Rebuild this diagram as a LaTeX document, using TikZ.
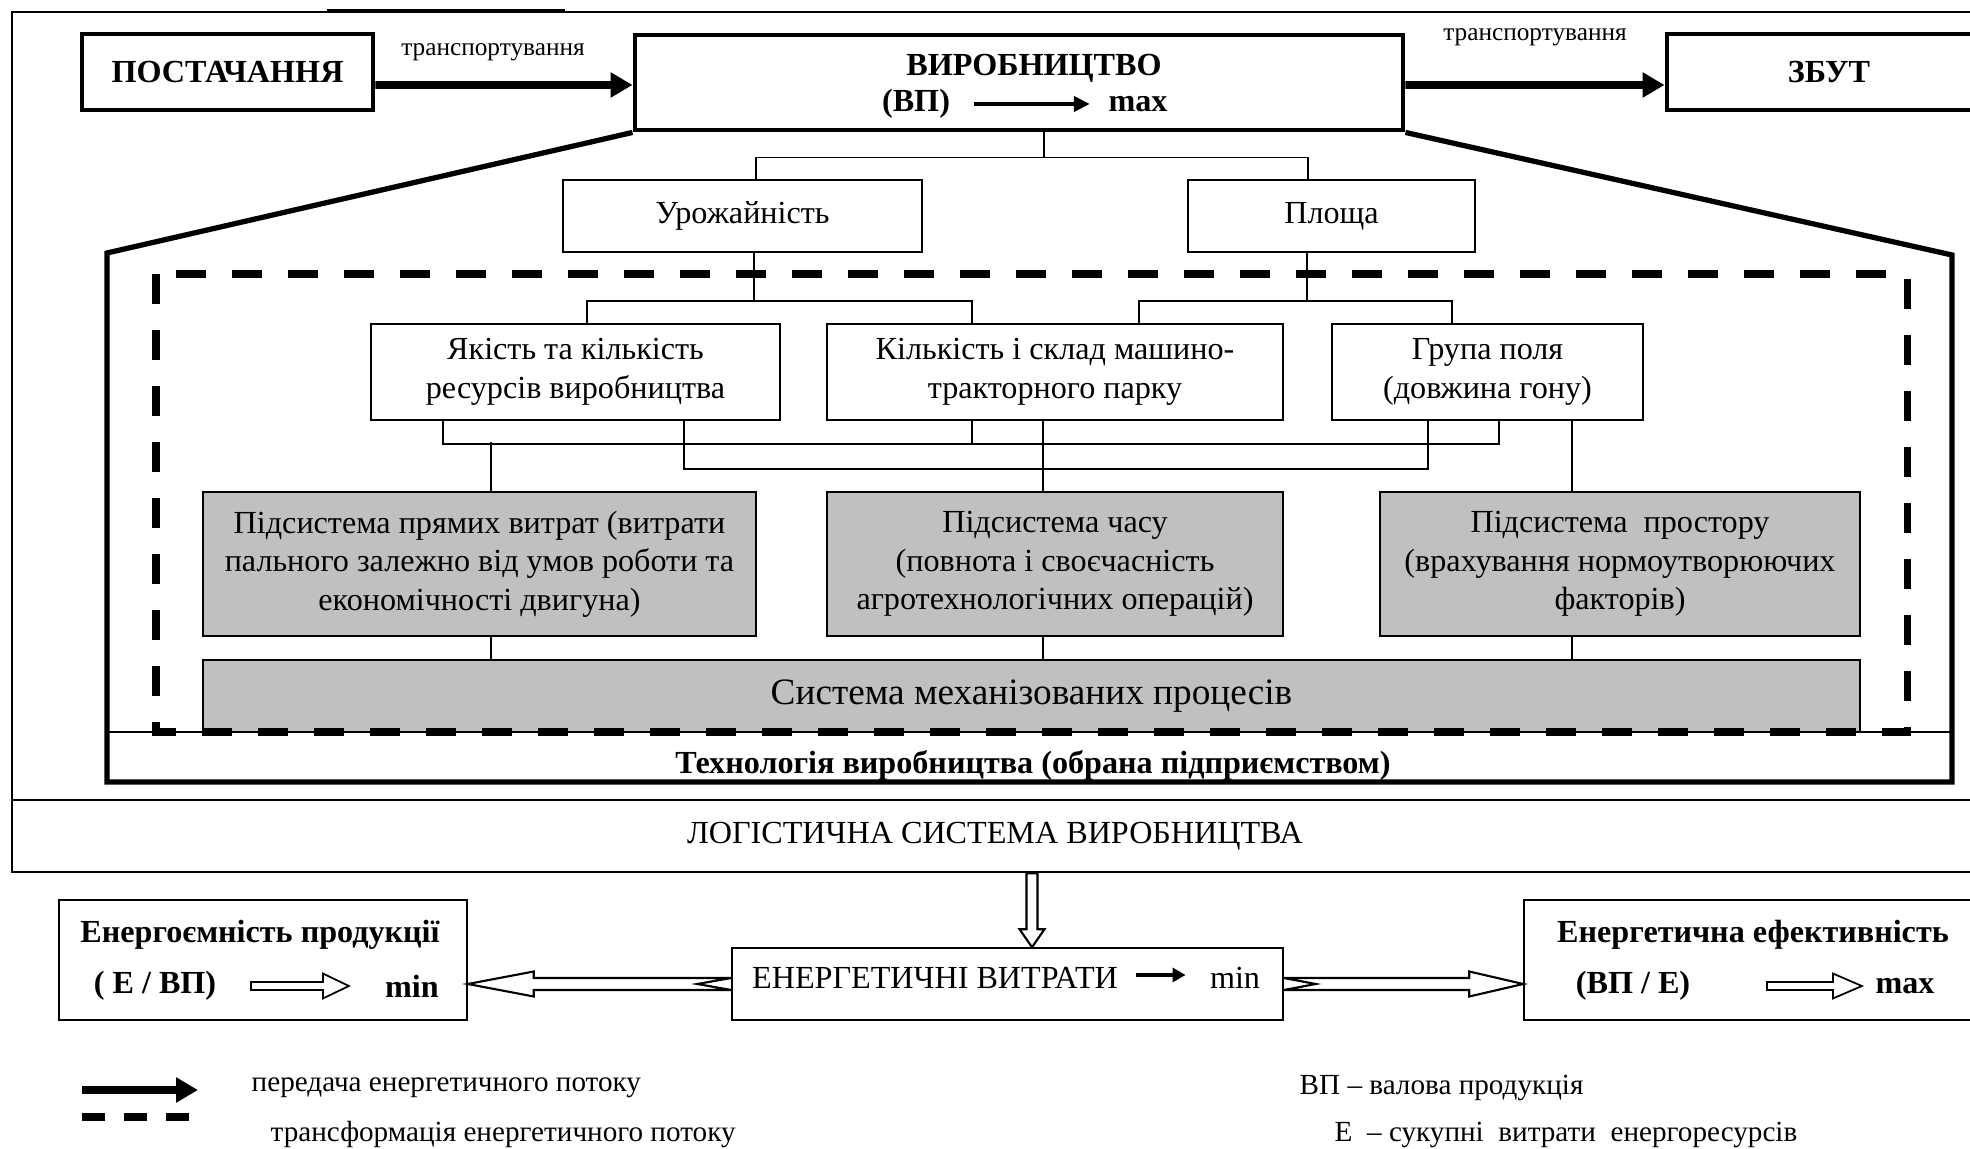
\documentclass[tikz,border=0pt]{standalone}
\usepackage{fontspec}
\setmainfont{Liberation Serif}
\usetikzlibrary{arrows.meta,calc}
\definecolor{subgray}{RGB}{192,192,192}
\newcommand{\txtnorm}{\fontsize{9.15}{11}\selectfont}
\newcommand{\legsize}{\fontsize{8.3}{10}\selectfont}
\newcommand{\trsize}{\fontsize{7.2}{8}\selectfont}

\begin{document}
\begin{tikzpicture}[x=0.1mm, y=-0.1mm,
  box/.style={draw, line width=0.45pt, rectangle, inner sep=0pt, align=center, font=\txtnorm},
  boldbox/.style={draw, line width=1.4pt, rectangle, inner sep=0pt, align=center, font=\txtnorm\bfseries},
  subbox/.style={box, fill=subgray},
  lbl/.style={inner sep=0pt, font=\txtnorm},
  flow/.style={line width=2.2pt, -{Triangle[length=2.2mm, width=2.4mm]}},
  link/.style={line width=0.45pt},
  hollow/.style={draw, fill=white, line width=0.6pt},
  dashframe/.style={line width=2pt, dash pattern=on 3mm off 2.6mm},
]
\useasboundingbox (0,0) rectangle (1970,1149);
\clip (0,0) rectangle (1970,1149);

% outer frame
\draw[line width=0.6pt] (12,12) rectangle (1978,800);
\draw[line width=1.2pt] (327,11) -- (565,11);

% supply - production - sales
\node[boldbox, minimum width=29.1mm, minimum height=7.6mm] (post) at (227.5,72) {ПОСТАЧАННЯ};
\node[boldbox, minimum width=76.8mm, minimum height=9.5mm] (virob) at (1019,82.5) {};
\node[boldbox, minimum width=32.4mm, minimum height=7.6mm] (zbut) at (1829,72) {ЗБУТ};
\node[lbl, font=\txtnorm\bfseries] (virobt) at (1034,68) {ВИРОБНИЦТВО};
\node[lbl, font=\txtnorm\bfseries] (vp) at (916,104) {(ВП)};
\node[lbl, font=\txtnorm\bfseries] (vmax) at (1138,104) {max};
\draw[line width=1.3pt, -{Triangle[length=1.6mm, width=1.5mm]}, shorten <=2.3mm, shorten >=1.8mm] (vp.east) -- (vmax.west);

\draw[flow] ($(post.east)+(0,13)$) -- ($(virob.west)+(0,2.5)$);
\draw[flow] ($(virob.east)+(0,2.5)$) -- ($(zbut.west)+(0,13)$);
\node[lbl, font=\trsize] (tr1) at (493,52) {транспортування};
\node[lbl, font=\trsize] (tr2) at (1535,37) {транспортування};

% technology frame
\draw[line width=1.5pt] (virob.south west) -- (107,253) |- (1952,782) -- (1952,255) -- (virob.south east);
\draw[line width=0.8pt] (107,732) -- (1952,732);
\node[lbl, font=\txtnorm\bfseries] (techl) at (1033,765) {Технологія виробництва (обрана підприємством)};

% factors
\node[box, minimum width=35.9mm, minimum height=7.2mm] (urozh) at (742.5,216) {Урожайність};
\node[box, minimum width=28.7mm, minimum height=7.2mm] (plosh) at (1331.5,216) {Площа};
\draw[link] ($(virob.south)+(25,0)$) -- ++(0,25) coordinate (vb);
\draw[link] ($(urozh.north)+(13.5,0)$) |- (vb) -| ($(plosh.north)+(-23.5,0)$);

\node[box, minimum width=40.9mm, minimum height=9.6mm] (yakist) at (575.5,372) {Якість та кількість\\ресурсів виробництва};
\node[box, minimum width=45.6mm, minimum height=9.6mm] (kilk) at (1055,372) {Кількість і склад машино-\\тракторного парку};
\node[box, minimum width=31.1mm, minimum height=9.6mm] (grupa) at (1487.5,372) {Група поля\\(довжина гону)};
\draw[link] ($(urozh.south)+(11.5,0)$) -- ++(0,48) coordinate (ub);
\draw[link] ($(yakist.north)+(11.5,0)$) |- (ub) -| ($(kilk.north)+(-83,0)$);
\draw[link] ($(plosh.south)+(-24.5,0)$) -- ++(0,48) coordinate (pb);
\draw[link] ($(kilk.north)+(84,0)$) |- (pb) -| ($(grupa.north)+(-35.5,0)$);

% subsystems
\node[subbox, minimum width=55.3mm, minimum height=14.4mm] (pidpr) at (479.5,564) {Підсистема прямих витрат (витрати\\пального залежно від умов роботи та\\економічності двигуна)};
\node[subbox, minimum width=45.6mm, minimum height=14.4mm] (pidchas) at (1055,564) {Підсистема часу\\(повнота і своєчасність\\агротехнологічних операцій)};
\node[subbox, minimum width=48mm, minimum height=14.4mm] (pidpros) at (1620,564) {Підсистема\ \ простору\\(врахування нормоутворюючих\\факторів)};
\node[subbox, minimum width=165.7mm, minimum height=7.2mm, font=\fontsize{10.6}{12}\selectfont] (sysmech) at (1031.5,696) {Система механізованих процесів};

\draw[link] ($(yakist.south)+(-132.5,0)$) -- ++(0,23) -| ($(grupa.south)+(11.5,0)$);
\draw[link] ($(kilk.south)+(-83,0)$) -- ++(0,23);
\draw[link] ($(pidpr.north)+(11.5,0)$) -- ++(0,-49);
\draw[link] ($(yakist.south)+(108.5,0)$) -- ++(0,48) -| ($(grupa.south)+(-59.5,0)$);
\draw[link] ($(kilk.south)+(-12,0)$) -- ($(pidchas.north)+(-12,0)$);
\draw[link] ($(grupa.south)+(84.5,0)$) -- ($(pidpros.north)+(-48,0)$);
\draw[link] ($(pidpr.south)+(11.5,0)$) -- ++(0,24);
\draw[link] ($(pidchas.south)+(-12,0)$) -- ++(0,24);
\draw[link] ($(pidpros.south)+(-48,0)$) -- ++(0,24);

\draw[dashframe] (156,274) rectangle (1907,732);

% logistics
\node[draw, line width=0.7pt, minimum width=196.6mm, minimum height=7.2mm, font=\txtnorm] (logi) at (995,836) {ЛОГІСТИЧНА СИСТЕМА ВИРОБНИЦТВА};

% energy
\node[box, minimum width=40.8mm, minimum height=12mm] (eint) at (263,960) {};
\node[lbl, font=\txtnorm\bfseries] (eintt) at (260,935) {Енергоємність продукції};
\node[lbl, font=\txtnorm\bfseries] (eintf) at (155,986) {( Е / ВП)};
\node[lbl, font=\txtnorm\bfseries] (eintm) at (412,986) {min};
\coordinate (ha1) at ($(eintf.east)+(34,0)$);
\draw[hollow, line width=0.5pt] (ha1) ++(0,-4) -- ++(72,0) -- ++(0,-8.5) -- ++(26,12.5) -- ++(-26,12.5) -- ++(0,-8.5) -- ++(-72,0) -- cycle;

\node[box, minimum width=55.1mm, minimum height=7.2mm] (evyt) at (1007.5,984) {};
\node[lbl] (evytt) at (935,978) {ЕНЕРГЕТИЧНІ ВИТРАТИ};
\node[lbl] (evytm) at (1235,978) {min};
\draw[line width=1pt, -{Triangle[length=1.3mm, width=1.4mm]}] ($(evytt.east)+(17,-3)$) -- ++(50,0);

\node[box, minimum width=45.9mm, minimum height=12mm] (eeff) at (1753.5,960) {};
\node[lbl, font=\txtnorm\bfseries] (eefft) at (1753,935) {Енергетична ефективність};
\node[lbl, font=\txtnorm\bfseries] (eefff) at (1633,986) {(ВП / Е)};
\node[lbl, font=\txtnorm\bfseries] (eeffm) at (1905,986) {max};
\coordinate (ha2) at ($(eefff.east)+(76,0)$);
\draw[hollow, line width=0.5pt] (ha2) ++(0,-4) -- ++(66,0) -- ++(0,-8.5) -- ++(29,12.5) -- ++(-29,12.5) -- ++(0,-8.5) -- ++(-66,0) -- cycle;

\coordinate (tl) at (eint.east |- evyt.west);
\draw[hollow] (tl) -- ++(66,-12.5) -- ++(0,6.5) -- ($(evyt.west)+(0,-6)$) -- ++(-34,6) -- ++(34,6) -- ($(tl)+(66,6)$) -- ++(0,6.5) -- cycle;
\coordinate (tr) at (eeff.west |- evyt.east);
\draw[hollow] (tr) -- ++(-54,-12.5) -- ++(0,6.5) -- ($(evyt.east)+(0,-6)$) -- ++(32,6) -- ++(-32,6) -- ($(tr)+(-54,6)$) -- ++(0,6.5) -- cycle;
\coordinate (td) at ($(evyt.north)+(24.5,0)$);
\draw[hollow] (td) -- ++(-12.5,-18) -- ++(7,0) -- ($(td |- logi.south)+(-5.5,0)$) -- ++(11,0) -- ($(td)+(5.5,-18)$) -- ++(7,0) -- cycle;

% legend
\coordinate (lga) at (82,1090);
\coordinate (lgb) at (198,1090);
\coordinate (lgc) at (82,1117);
\coordinate (lgd) at (195,1117);
\draw[flow] (lga) -- (lgb);
\draw[line width=2pt, dash pattern=on 2.3mm off 1.9mm] (lgc) -- (lgd);
\node[lbl, font=\legsize, anchor=west] (lgt1) at (251,1088) {передача енергетичного потоку};
\node[lbl, font=\legsize, anchor=west] (lgt2) at (270,1135) {трансформація енергетичного потоку};
\node[lbl, font=\legsize, anchor=west] (lgt3) at (1299,1088) {ВП – валова продукція};
\node[lbl, font=\legsize, anchor=west] (lgt4) at (1334,1135) {Е\ \ – сукупні\ \ витрати\ \ енергоресурсів};
\end{tikzpicture}
\end{document}
